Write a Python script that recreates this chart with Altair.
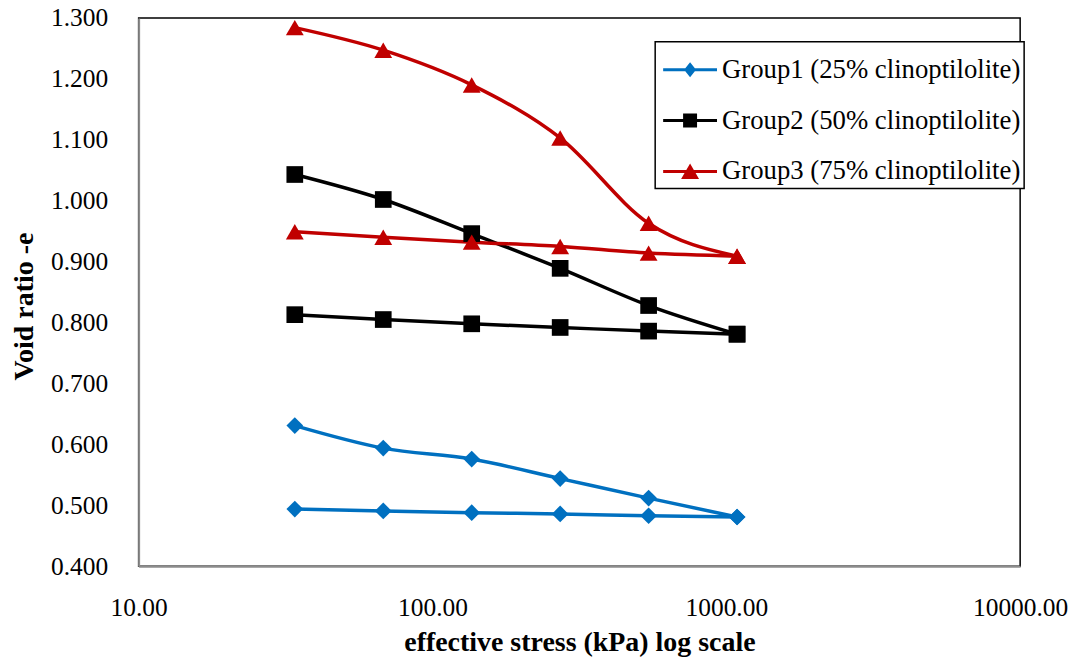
import altair as alt
import pandas as pd

# ---- data ----
stress = [34, 68, 136, 272, 544, 1088]
groups = ["Group1 (25% clinoptilolite)", "Group2 (50% clinoptilolite)", "Group3 (75% clinoptilolite)"]
colors = ["#0070C0", "#000000", "#C00000"]
marker_shapes = ["diamond", "square", "triangle-up"]
marker_sizes = [280, 280, 320]

g1_load = [0.631, 0.594, 0.576, 0.544, 0.512, 0.481]
g1_unload = [0.494, 0.491, 0.488, 0.486, 0.483, 0.481]
g2_load = [1.043, 1.002, 0.946, 0.889, 0.828, 0.781]
g2_unload = [0.813, 0.805, 0.798, 0.792, 0.786, 0.781]
g3_load = [1.284, 1.247, 1.190, 1.103, 0.963, 0.909]
g3_unload = [0.949, 0.940, 0.932, 0.925, 0.914, 0.909]

x_ticks = [10, 100, 1000, 10000]
y_ticks = [0.4, 0.5, 0.6, 0.7, 0.8, 0.9, 1.0, 1.1, 1.2, 1.3]

# legend symbols: line segment + marker (custom SVG paths)
legend_paths = [
    "M-0.8,-0.06H1.36V0.06H-0.8Z M0.04,0L0.28,-0.3L0.52,0L0.28,0.3Z",
    "M-0.8,-0.06H1.36V0.06H-0.8Z M0.0,-0.28H0.56V0.28H0.0Z",
    "M-0.8,-0.06H1.36V0.06H-0.8Z M0.28,-0.32L0.64,0.3L-0.08,0.3Z",
]

series = [(groups[0], g1_load, g1_unload), (groups[1], g2_load, g2_unload), (groups[2], g3_load, g3_unload)]
rows = []
for g, load, unload in series:
    for s, v in zip(stress, load):
        rows.append({"stress": s, "e": v, "group": g, "branch": g + "-load"})
    for s, v in zip(stress, unload):
        rows.append({"stress": s, "e": v, "group": g, "branch": g + "-unload"})
df = pd.DataFrame(rows)

FONT = "Liberation Serif"

x = alt.X(
    "stress:Q",
    scale=alt.Scale(type="log", domain=[10, 10000], nice=False),
    axis=alt.Axis(
        values=x_ticks, format=".2f", title="effective stress (kPa) log scale",
        labelPadding=29, labelFlush=False, titleBaseline="alphabetic", titleY=84,
    ),
)
y = alt.Y(
    "e:Q",
    scale=alt.Scale(domain=[0.4, 1.3], nice=False, zero=False),
    axis=alt.Axis(
        values=y_ticks, format=".3f", title="Void ratio -e",
        labelPadding=31, labelFlush=False, titleBaseline="alphabetic", titleX=-106, titleY=289,
        titleAlign="center", titleAngle=270,
    ),
)

base = alt.Chart(df)

layers = []
for g, c in zip(groups, colors):
    layers.append(
        base.transform_filter(alt.datum.group == g)
        .mark_line(interpolate="monotone", strokeWidth=3.5, color=c)
        .encode(x=x, y=y, detail="branch:N")
    )
for g, c, shp, sz in zip(groups, colors, marker_shapes, marker_sizes):
    layers.append(
        base.transform_filter(alt.datum.group == g)
        .mark_point(shape=shp, filled=True, size=sz, opacity=1, color=c)
        .encode(x=x, y=y)
    )

leg = alt.Legend(
    title=None, orient="none", legendX=518, legendY=24,
    labelFont=FONT, labelFontSize=26.8, labelColor="#000000", labelLimit=600,
    symbolSize=2500, symbolStrokeWidth=0, labelOffset=14,
    padding=3, rowPadding=12, fillColor="#ffffff", strokeColor="#000000",
)
# zero-size points: they only supply the legend entries
legend_layer = base.mark_point(filled=True, opacity=1, size=0).encode(
    x=x, y=y,
    color=alt.Color("group:N", scale=alt.Scale(domain=groups, range=colors), legend=leg),
    shape=alt.Shape("group:N", scale=alt.Scale(domain=groups, range=legend_paths), legend=leg),
)
layers.append(legend_layer)

chart = (
    alt.layer(*layers)
    .properties(
        width=884, height=550,
        padding={"left": 131, "top": 9, "right": 52, "bottom": 92},
        autosize=alt.AutoSizeParams(type="none"),
    )
    .configure_view(stroke="#000000", strokeWidth=1.5)
    .configure_axis(
        grid=False, ticks=False, tickSize=0,
        domainColor="#8c8c8c", domainWidth=2,
        labelFont=FONT, labelFontSize=25.5, labelColor="#000000",
        titleFont=FONT, titleFontSize=28, titleFontWeight="bold", titleColor="#000000",
    )
    .configure_legend(strokeWidth=1.5)
)

chart.save("out.html", embed_options={"renderer": "svg", "actions": False})
